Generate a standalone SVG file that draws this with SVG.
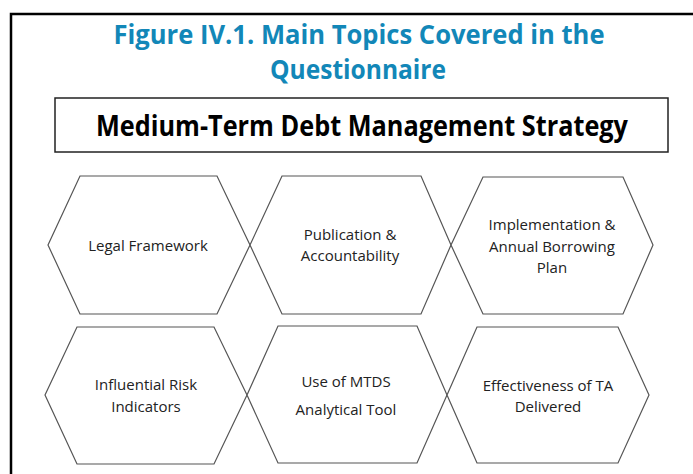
<svg xmlns="http://www.w3.org/2000/svg" width="693" height="474" viewBox="0 0 693 474">
<style>
.hex{fill:#fff;stroke:#555;stroke-width:1.2}
.lbl{font-family:"Open Sans","Liberation Sans",sans-serif;font-size:15px;fill:#222;text-anchor:middle}
.title{font-family:"Open Sans","Liberation Sans",sans-serif;font-weight:bold;font-size:26px;fill:#1287B8;text-anchor:middle}
.head{font-family:"Open Sans","Liberation Sans",sans-serif;font-weight:bold;font-size:28px;fill:#000;text-anchor:middle}
</style>
<rect width="693" height="474" fill="#fff"/>
<path d="M11,480 V14 H700" fill="none" stroke="#000" stroke-width="2.5"/>
<g id="title">
<text class="title" x="359" y="44" textLength="491" lengthAdjust="spacingAndGlyphs">Figure IV.1. Main Topics Covered in the</text>
<text class="title" x="358" y="79" textLength="176" lengthAdjust="spacingAndGlyphs">Questionnaire</text>
</g>
<g id="header">
<rect x="55" y="98" width="613" height="54" fill="#fff" stroke="#222" stroke-width="1.5"/>
<text class="head" x="362" y="136" textLength="532" lengthAdjust="spacingAndGlyphs">Medium-Term Debt Management Strategy</text>
</g>
<g id="connectors"></g>
<g id="n1">
<polygon class="hex" points="48,245 80,176 217,176 250,245 217,314 80,314"/>
<text class="lbl" x="148" y="251">Legal Framework</text>
</g>
<g id="n2">
<polygon class="hex" points="250,245 282,176 421,176 451,245 421,314 282,314"/>
<text class="lbl" x="350" y="240">Publication &amp;</text>
<text class="lbl" x="350" y="261">Accountability</text>
</g>
<g id="n3">
<polygon class="hex" points="451,245 483,177 623,177 653,245 623,314 483,314"/>
<text class="lbl" x="552" y="230">Implementation &amp;</text>
<text class="lbl" x="552" y="252">Annual Borrowing</text>
<text class="lbl" x="552" y="273">Plan</text>
</g>
<g id="n4">
<polygon class="hex" points="45,395 77,327 214,327 247,395 214,464 77,464"/>
<text class="lbl" x="146" y="390">Influential Risk</text>
<text class="lbl" x="146" y="412">Indicators</text>
</g>
<g id="n5">
<polygon class="hex" points="247,395 278,326 417,326 447,395 417,463 278,463"/>
<text class="lbl" x="346" y="387">Use of MTDS</text>
<text class="lbl" x="346" y="415">Analytical Tool</text>
</g>
<g id="n6">
<polygon class="hex" points="447,395 477,327 618,327 649,395 618,463 477,463"/>
<text class="lbl" x="548" y="391">Effectiveness of TA</text>
<text class="lbl" x="548" y="412">Delivered</text>
</g>
</svg>
